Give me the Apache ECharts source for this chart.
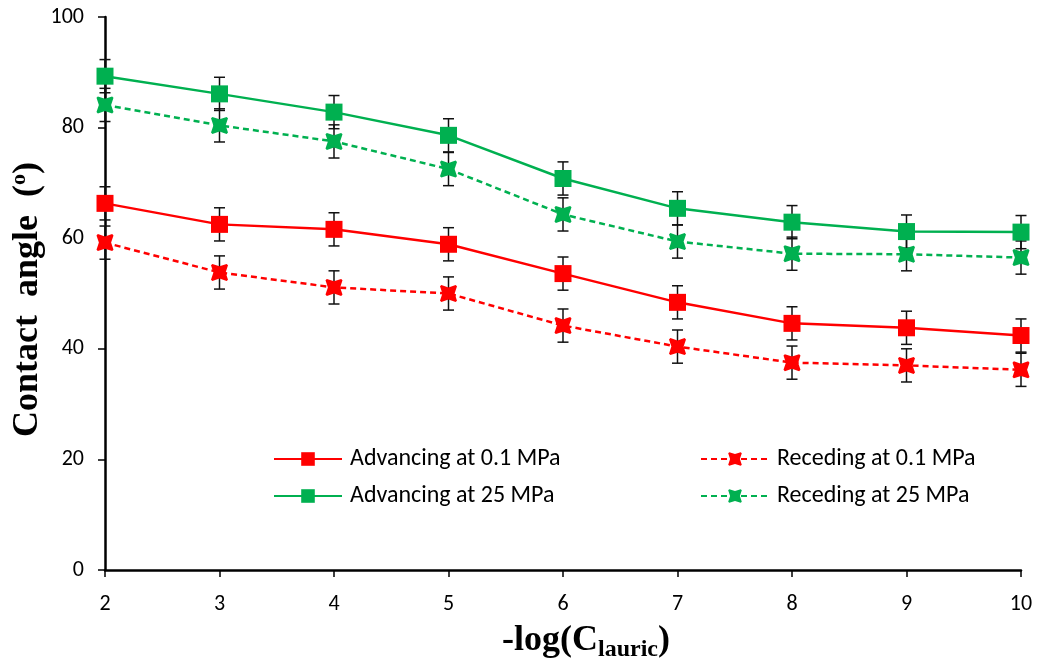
<!DOCTYPE html>
<html><head><meta charset="utf-8">
<script src="https://cdn.jsdelivr.net/npm/echarts@6/dist/echarts.min.js"></script>
<style>html,body{margin:0;padding:0;background:#fff}#c{width:1043px;height:666px}</style>
</head><body><div id="c"></div>
<script>
const xValues = [2, 3, 4, 5, 6, 7, 8, 9, 10];
const advLow  = [66.3, 62.5, 61.6, 58.9, 53.6, 48.4, 44.6, 43.8, 42.4];
const recLow  = [59.2, 53.8, 51.1, 50.0, 44.2, 40.4, 37.5, 37.0, 36.2];
const advHigh = [89.3, 86.1, 82.8, 78.6, 70.8, 65.4, 62.9, 61.2, 61.1];
const recHigh = [84.1, 80.4, 77.5, 72.5, 64.3, 59.4, 57.2, 57.1, 56.5];
const errAdvLow  = [3, 3, 3, 3, 3, 3, 3, 3, 3];
const errRecLow  = [3, 3, 3, 3, 3, 3, 3, 3, 3];
const errAdvHigh = [3, 3, 3, 3, 3, 3, 3, 3, 3];
const errRecHigh = [3, 3, 3, 3, 3, 3, 3, 3, 3];
const names = ['Advancing at 0.1 MPa', 'Receding at 0.1 MPa', 'Advancing at 25 MPa', 'Receding at 25 MPa'];

const RED = '#FF0000', GREEN = '#00B050';
const xMark = 'path://M0,0.8L0.8,0L5,1.4L9.2,0L10,0.8L8.6,5L10,9.2L9.2,10L5,8.6L0.8,10L0,9.2L1.4,5Z';
const tickFont = "Carlito, 'Liberation Sans Narrow', 'Open Sans', sans-serif";
const serif = "'Liberation Serif', 'DejaVu Serif', serif";

function pts(ys) { return xValues.map((x, i) => [x, ys[i]]); }
function errData(ys, es) { return xValues.map((x, i) => [x, ys[i], es[i]]); }

function errSeries(ys, es) {
  return {
    type: 'custom', silent: true, z: 1,
    data: errData(ys, es),
    renderItem: function (params, api) {
      const x = api.value(0), y = api.value(1), e = api.value(2);
      const t = api.coord([x, y + e]), b = api.coord([x, y - e]);
      const w = 5.5;
      const st = { stroke: '#111', lineWidth: 1.5 };
      return { type: 'group', children: [
        { type: 'line', shape: { x1: t[0], y1: t[1], x2: b[0], y2: b[1] }, style: st },
        { type: 'line', shape: { x1: t[0] - w, y1: t[1], x2: t[0] + w, y2: t[1] }, style: st },
        { type: 'line', shape: { x1: b[0] - w, y1: b[1], x2: b[0] + w, y2: b[1] }, style: st }
      ]};
    }
  };
}

function lineSeries(name, ys, color, dashed) {
  return {
    name: name, type: 'line', z: 3,
    data: pts(ys),
    symbol: dashed ? xMark : 'rect',
    symbolSize: 17,
    itemStyle: { color: color },
    lineStyle: { color: color, width: 2.5, type: dashed ? [6, 4] : 'solid' }
  };
}

const legendText = { fontFamily: tickFont, fontSize: 24, color: '#000', padding: [0, 0, 0, 3] };
function legendAt(name, left, top) {
  return { data: [name], left: left, top: top, itemWidth: 68, itemHeight: 17, itemGap: 0,
    textStyle: legendText, selectedMode: false, padding: 0 };
}

const chart = echarts.init(document.getElementById('c'));
chart.setOption({
  animation: false,
  backgroundColor: '#fff',
  grid: { left: 105, right: 22, top: 17, bottom: 96, containLabel: false, outerBoundsMode: 'none' },
  legend: [
    legendAt(names[0], 273, 447),
    legendAt(names[1], 700, 447),
    legendAt(names[2], 273, 484),
    legendAt(names[3], 700, 484)
  ],
  xAxis: {
    type: 'value', min: 2, max: 10, interval: 1,
    axisLine: { onZero: false, lineStyle: { color: '#000', width: 2.5 } },
    axisTick: { show: true, length: 7, lineStyle: { color: '#000', width: 1.5 } },
    splitLine: { show: false },
    axisLabel: { fontFamily: tickFont, fontSize: 22, color: '#000', margin: 23 },
    name: '-log(C{s|lauric})',
    nameLocation: 'middle', nameGap: 50, nameMoveOverlap: false,
    nameTextStyle: {
      fontFamily: serif, fontWeight: 'bold', fontSize: 36, color: '#000', lineHeight: 42,
      padding: [0, 0, 0, 46],
      rich: { s: { fontFamily: serif, fontWeight: 'bold', fontSize: 24, lineHeight: 24, verticalAlign: 'bottom', color: '#000' } }
    }
  },
  yAxis: {
    type: 'value', min: 0, max: 100, interval: 20,
    axisLine: { show: true, lineStyle: { color: '#000', width: 2.5 } },
    axisTick: { show: true, length: 7, lineStyle: { color: '#000', width: 1.5 } },
    splitLine: { show: false },
    axisLabel: { fontFamily: tickFont, fontSize: 22, color: '#000', margin: 21 },
    name: 'Contact  angle  ({p|o})',
    nameLocation: 'middle', nameGap: 57, nameRotate: 90, nameMoveOverlap: false,
    nameTextStyle: {
      fontFamily: serif, fontWeight: 'bold', fontSize: 36, color: '#000', lineHeight: 40,
      padding: [0, 12, 0, 0],
      rich: { p: { fontFamily: serif, fontWeight: 'bold', fontSize: 22, lineHeight: 22, verticalAlign: 'top', color: '#000' } }
    }
  },
  series: [
    errSeries(advLow, errAdvLow),
    errSeries(recLow, errRecLow),
    errSeries(advHigh, errAdvHigh),
    errSeries(recHigh, errRecHigh),
    lineSeries(names[0], advLow, RED, false),
    lineSeries(names[1], recLow, RED, true),
    lineSeries(names[2], advHigh, GREEN, false),
    lineSeries(names[3], recHigh, GREEN, true)
  ]
});
</script></body></html>
